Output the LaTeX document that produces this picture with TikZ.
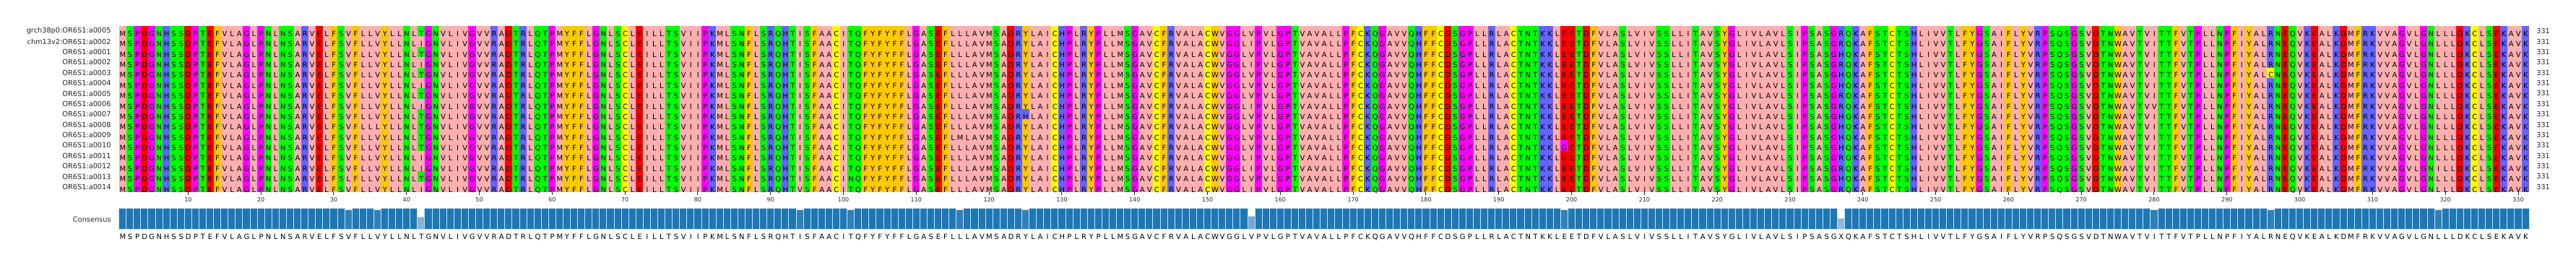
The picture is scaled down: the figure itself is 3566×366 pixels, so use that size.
\documentclass[tikz,border=0pt]{standalone}
\usepackage{fontspec}
\setmainfont{DejaVu Sans}
\definecolor{zhyd}{HTML}{FFAFAF}
\definecolor{zaro}{HTML}{FFC800}
\definecolor{zpos}{HTML}{6464FF}
\definecolor{zneg}{HTML}{FF0000}
\definecolor{zpol}{HTML}{00FF00}
\definecolor{zgp}{HTML}{FF00FF}
\definecolor{zcys}{HTML}{FFFF00}
\definecolor{barblue}{HTML}{1F77B4}
\definecolor{labgray}{HTML}{262626}
\newcommand\zsetc[2]{\expandafter\def\csname zc#1\endcsname{#2}}
\zsetc{A}{zhyd}\zsetc{I}{zhyd}\zsetc{L}{zhyd}\zsetc{V}{zhyd}\zsetc{M}{zhyd}
\zsetc{F}{zaro}\zsetc{W}{zaro}\zsetc{Y}{zaro}
\zsetc{K}{zpos}\zsetc{R}{zpos}\zsetc{H}{zpos}
\zsetc{D}{zneg}\zsetc{E}{zneg}
\zsetc{S}{zpol}\zsetc{T}{zpol}\zsetc{N}{zpol}\zsetc{Q}{zpol}
\zsetc{G}{zgp}\zsetc{P}{zgp}
\zsetc{C}{zcys}
% row, column, residue that differs from the base column
\newcommand\zexc[3]{\expandafter\def\csname ze#1-#2\endcsname{#3}}
% column identity
\newcommand\zid[2]{\expandafter\def\csname zi#1\endcsname{#2}}
\zexc{15}{32}{L}
\zexc{10}{36}{L}
\zexc{2}{42}{I}\zexc{4}{42}{I}\zexc{6}{42}{I}\zexc{8}{42}{I}\zexc{13}{42}{I}\zexc{14}{42}{I}\zexc{16}{42}{I}
\zexc{16}{94}{V}
\zexc{15}{101}{N}
\zexc{11}{116}{M}
\zexc{9}{125}{H}
\zexc{2}{156}{I}\zexc{4}{156}{I}\zexc{8}{156}{I}\zexc{13}{156}{I}\zexc{14}{156}{I}\zexc{16}{156}{I}
\zexc{12}{199}{G}
\zexc{3}{237}{H}\zexc{5}{237}{H}\zexc{6}{237}{H}\zexc{9}{237}{H}\zexc{10}{237}{H}\zexc{11}{237}{H}\zexc{12}{237}{H}\zexc{15}{237}{H}
\zexc{8}{280}{V}
\zexc{5}{296}{C}
\zexc{14}{319}{I}
\zexc{k}{237}{X}
\zid{32}{0.9375}\zid{36}{0.9375}\zid{42}{0.5625}\zid{94}{0.9375}\zid{101}{0.9375}
\zid{116}{0.9375}\zid{125}{0.9375}\zid{156}{0.625}\zid{199}{0.9375}\zid{237}{0.5}
\zid{280}{0.9375}\zid{296}{0.9375}\zid{319}{0.9375}
\def\zbase{MSPDGNHSSDPTEFVLAGLPNLNSARVELFSVFLLVYLLNLTGNVLIVGVVRADTRLQTPMYFFLGNLSCLEILLTSVIIPKMLSNFLSRQHTISFAACITQFYFYFFLGASEFLLLAVMSADRYLAICHPLRYPLLMSGAVCFRVALACWVGGLVPVLGPTVAVALLPFCKQGAVVQHFFCDSGPLLRLACTNTKKLEETDFVLASLVIVSSLLITAVSYGLIVLAVLSIPSASGRQKAFSTCTSHLIVVTLFYGSAIFLYVRPSQSGSVDTNWAVTVITTFVTPLLNPFIYALRNEQVKEALKDMFRKVVAGVLGNLLLDKCLSEKAVK}
\newcount\zcol
\def\zbox#1{\hbox to 5.04pt{\hss#1\hss}}
\def\zcell#1{\ifcsname ze\zcurrow-\the\zcol\endcsname\zbox{\csname ze\zcurrow-\the\zcol\endcsname}\else\zbox{#1}\fi}
\def\zscan#1{\ifx#1\relax\else\advance\zcol by 1 \zcell{#1}\expandafter\zscan\fi}
\newcommand\zrowtext[1]{\zcol=0 \def\zcurrow{#1}\expandafter\zscan\zbase\relax}
\tikzset{
  seqrow/.style={anchor=base west, inner sep=0pt, font=\fontsize{5}{6}\selectfont, text=black},
  rowlabel/.style={anchor=east, inner sep=0pt, font=\fontsize{4.88}{6}\selectfont, text=labgray},
  numlab/.style={anchor=west, inner sep=0pt, font=\fontsize{4.8}{6}\selectfont, text=labgray},
  ticklab/.style={inner sep=0pt, font=\fontsize{4}{5}\selectfont, text=labgray},
  tickmark/.style={draw=labgray, line width=0.5pt},
  conbar/.style={draw=barblue!22!white, line width=0.5pt},
}
\begin{document}
\begin{tikzpicture}[x=0.5pt,y=-0.5pt]
\useasboundingbox (0,0) rectangle (3566,366);
% column backgrounds and consensus bars
\foreach \cl [count=\cc] in {M,S,P,D,G,N,H,S,S,D,P,T,E,F,V,L,A,G,L,P,N,L,N,S,A,R,V,E,L,F,S,V,F,
L,L,V,Y,L,L,N,L,T,G,N,V,L,I,V,G,V,V,R,A,D,T,R,L,Q,T,P,M,Y,F,F,L,G,N,L,S,C,L,E,I,L,L,T,S,V,I,I,P,K,M,
L,S,N,F,L,S,R,Q,H,T,I,S,F,A,A,C,I,T,Q,F,Y,F,Y,F,F,L,G,A,S,E,F,L,L,L,A,V,M,S,A,D,R,Y,L,A,I,C,H,P,L,R,
Y,P,L,L,M,S,G,A,V,C,F,R,V,A,L,A,C,W,V,G,G,L,V,P,V,L,G,P,T,V,A,V,A,L,L,P,F,C,K,Q,G,A,V,V,Q,H,F,F,C,
D,S,G,P,L,L,R,L,A,C,T,N,T,K,K,L,E,E,T,D,F,V,L,A,S,L,V,I,V,S,S,L,L,I,T,A,V,S,Y,G,L,I,V,L,A,V,L,S,I,P,
S,A,S,G,R,Q,K,A,F,S,T,C,T,S,H,L,I,V,V,T,L,F,Y,G,S,A,I,F,L,Y,V,R,P,S,Q,S,G,S,V,D,T,N,W,A,V,T,V,I,T,
T,F,V,T,P,L,L,N,P,F,I,Y,A,L,R,N,E,Q,V,K,E,A,L,K,D,M,F,R,K,V,V,A,G,V,L,G,N,L,L,L,D,K,C,L,S,E,K,A,V,K} {
  \pgfmathsetmacro\xl{164.6+(\cc-1)*10.08}
  \edef\fc{\csname zc\cl\endcsname}
  \fill[fill=\fc] (\xl,36) rectangle ++(10.08,230);
  \ifcsname zi\cc\endcsname \edef\idn{\csname zi\cc\endcsname}\else \def\idn{1}\fi
  \pgfmathtruncatemacro\pct{100*\idn}
  \filldraw[conbar, fill=barblue!\pct!white] (\xl,317.3) rectangle ++(10.08,-29*\idn);
}
% cells that differ from their column
\foreach \rr/\cc/\lt in {15/32/L,10/36/L,2/42/I,4/42/I,6/42/I,8/42/I,13/42/I,14/42/I,16/42/I,
16/94/V,15/101/N,11/116/M,9/125/H,2/156/I,4/156/I,8/156/I,13/156/I,14/156/I,16/156/I,12/199/G,
3/237/H,5/237/H,6/237/H,9/237/H,10/237/H,11/237/H,12/237/H,15/237/H,8/280/V,5/296/C,14/319/I} {
  \edef\ec{\csname zc\lt\endcsname}
  \fill[fill=\ec] ({164.6+(\cc-1)*10.08},{36+(\rr-1)*14.375}) rectangle ++(10.08,14.375);
}
% residue letters, one node per row
\foreach \rr in {1,...,16} {
  \node[seqrow] (seq\rr) at (164.6,{43.1875+(\rr-1)*14.375+7.29}) {\zrowtext{\rr}};
}
\node[seqrow] (consseq) at (164.6,{324+7.29}) {\zrowtext{k}};
\foreach \lab [count=\rr] in {grch38p0:OR6S1:a0005,chm13v2:OR6S1:a0002,OR6S1:a0001,OR6S1:a0002,OR6S1:a0003,OR6S1:a0004,OR6S1:a0005,OR6S1:a0006,OR6S1:a0007,OR6S1:a0008,OR6S1:a0009,OR6S1:a0010,OR6S1:a0011,OR6S1:a0012,OR6S1:a0013,OR6S1:a0014} {
  \node[rowlabel] (lab\rr) at (154,{43.1875+(\rr-1)*14.375}) {\lab};
  \node[numlab] (len\rr) at (3511,{43.1875+(\rr-1)*14.375}) {331};
}
\foreach \t in {10,20,...,330} {
  \pgfmathsetmacro\xt{164.6+(\t-0.5)*10.08}
  \draw[tickmark] (\xt,266) -- (\xt,270);
  \node[ticklab] (tick\t) at (\xt,276.5) {\t};
}
\node[rowlabel] (conslab) at (154,303.5) {Consensus};
\end{tikzpicture}
\end{document}
